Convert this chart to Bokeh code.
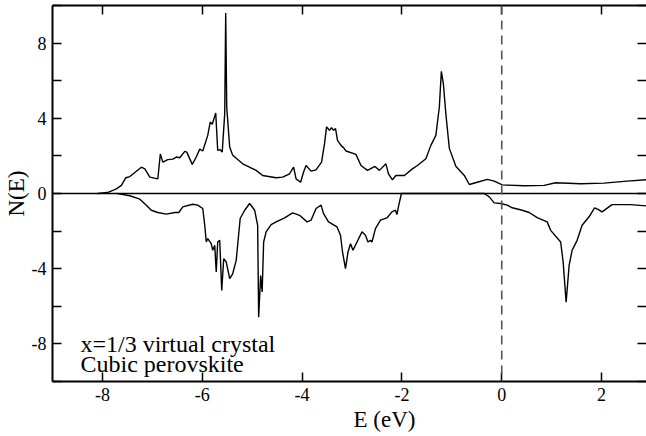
from bokeh.plotting import figure
from bokeh.models import FixedTicker, LinearAxis, Span, Label, Range1d, Title
from bokeh.embed import file_html
from bokeh.resources import INLINE

# ---- data ----
E_up = [-8.10, -7.90, -7.72, -7.62, -7.53, -7.45, -7.22, -7.15, -7.05, -6.89,
        -6.84, -6.79, -6.69, -6.59, -6.52, -6.45, -6.35, -6.31, -6.20, -6.12,
        -6.05, -5.99, -5.89, -5.84, -5.80, -5.73, -5.69, -5.64, -5.60, -5.55,
        -5.53, -5.51, -5.45, -5.39, -5.19, -4.92, -4.79, -4.52, -4.39, -4.25,
        -4.17, -4.12, -4.03, -3.97, -3.92, -3.82, -3.72, -3.61, -3.55, -3.51,
        -3.45, -3.41, -3.37, -3.33, -3.29, -3.22, -3.17, -3.12, -2.92, -2.82,
        -2.69, -2.54, -2.45, -2.32, -2.27, -2.19, -2.12, -1.95, -1.79, -1.69,
        -1.52, -1.42, -1.32, -1.25, -1.21, -1.17, -1.12, -1.05, -0.92, -0.75,
        -0.65, -0.49, -0.29, -0.15, 0.01, 0.45, 0.85, 1.08, 1.58, 2.05,
        2.51, 2.90]
N_up = [0.00, 0.05, 0.25, 0.43, 0.84, 0.90, 1.40, 1.31, 0.87, 0.78,
        2.10, 1.67, 1.80, 1.83, 1.94, 1.90, 2.24, 2.20, 1.55, 1.94,
        2.36, 2.26, 3.09, 3.80, 3.68, 4.28, 2.29, 2.33, 2.20, 4.25,
        9.60, 4.60, 2.47, 2.03, 1.58, 1.23, 0.96, 0.84, 0.87, 1.05,
        1.40, 0.78, 0.60, 1.14, 1.49, 1.19, 1.26, 1.67, 2.65, 3.54,
        3.36, 3.50, 3.36, 3.45, 2.83, 2.56, 2.44, 2.26, 2.08, 1.49,
        1.23, 1.44, 1.23, 1.58, 1.05, 0.73, 0.96, 0.96, 1.31, 1.49,
        1.85, 2.56, 3.09, 4.60, 6.50, 5.85, 4.25, 2.40, 1.45, 0.96,
        0.48, 0.60, 0.75, 0.66, 0.46, 0.41, 0.43, 0.57, 0.52, 0.55,
        0.66, 0.73]

E_dn = [-7.70, -7.45, -7.25, -7.12, -7.02, -6.89, -6.72, -6.55, -6.47, -6.39,
        -6.19, -6.09, -5.99, -5.95, -5.92, -5.89, -5.82, -5.79, -5.75, -5.72,
        -5.69, -5.65, -5.61, -5.57, -5.52, -5.45, -5.39, -5.32, -5.24, -5.15,
        -5.05, -4.95, -4.89, -4.87, -4.83, -4.80, -4.77, -4.72, -4.62, -4.52,
        -4.35, -4.19, -4.05, -3.90, -3.82, -3.72, -3.62, -3.57, -3.47, -3.30,
        -3.23, -3.19, -3.13, -3.08, -3.03, -2.98, -2.90, -2.80, -2.73, -2.68,
        -2.63, -2.60, -2.53, -2.43, -2.30, -2.20, -2.13, -2.10, -2.07, -2.01,
        -0.35, -0.25, -0.15, -0.02, 0.11, 0.21, 0.41, 0.55, 0.71, 0.91,
        0.98, 1.18, 1.23, 1.29, 1.35, 1.41, 1.51, 1.61, 1.75, 1.86,
        1.93, 2.01, 2.21, 2.58, 2.90]
N_dn = [0.00, -0.12, -0.30, -0.62, -0.89, -1.01, -1.10, -1.01, -1.01, -0.71,
        -0.57, -0.62, -0.80, -1.69, -2.58, -2.40, -2.67, -3.02, -2.76, -4.18,
        -2.58, -2.49, -5.16, -3.47, -3.64, -4.53, -4.27, -3.56, -1.33, -0.89,
        -0.53, -0.89, -1.69, -6.58, -4.36, -5.24, -2.58, -2.04, -1.65, -1.51,
        -1.30, -1.03, -1.16, -1.51, -1.42, -0.80, -0.62, -1.07, -1.51, -1.78,
        -2.22, -3.11, -4.00, -3.11, -2.67, -3.02, -2.58, -2.04, -2.22, -2.58,
        -2.49, -2.58, -1.87, -1.42, -1.30, -0.98, -0.89, -1.12, -0.71, 0.00,
        0.00, -0.18, -0.50, -0.53, -0.62, -0.76, -0.89, -1.01, -1.28, -1.51,
        -1.96, -2.58, -3.64, -5.78, -3.82, -3.02, -2.49, -1.69, -1.24, -0.76,
        -0.84, -0.98, -0.59, -0.59, -0.66]

x_ticks = [-8, -6, -4, -2, 0, 2]
x_tick_labels = ["-8", "-6", "-4", "-2", "0", "2"]
y_major = [-8, -4, 0, 4, 8]
y_tick_labels = ["-8", "-4", "0", "4", "8"]
y_minor = [-10, -6, -2, 2, 6, 10]
x_label = "E (eV)"
y_label = "N(E)"
notes = ["x=1/3 virtual crystal", "Cubic perovskite"]

SERIF = "Liberation Serif"

p = figure(width=646, height=436, x_range=Range1d(-9, 2.9), y_range=Range1d(-10, 10),
           output_backend="svg", toolbar_location=None,
           min_border_left=51, min_border_right=0, min_border_top=5, min_border_bottom=55)
p.outline_line_color = None
p.xgrid.visible = False
p.ygrid.visible = False
p.background_fill_color = "white"
p.border_fill_color = "white"


def style(ax, labels=None):
    ax.major_tick_in = 9
    ax.major_tick_out = 0
    ax.minor_tick_in = 9
    ax.minor_tick_out = 0
    ax.axis_line_width = 2
    ax.axis_line_color = "black"
    ax.major_tick_line_width = 1.5
    ax.minor_tick_line_width = 1.5
    ax.major_tick_line_color = "black"
    ax.minor_tick_line_color = "black"
    ax.major_label_text_font = SERIF
    ax.major_label_text_color = "black"
    ax.axis_label_text_font = SERIF
    ax.axis_label_text_font_style = "normal"
    ax.axis_label_text_color = "black"
    ax.axis_label_text_font_size = "23px"
    if labels is not None:
        ax.major_label_text_font_size = "18px"
        ax.major_label_standoff = 6
        ax.major_label_overrides = labels
    else:
        ax.major_label_text_font_size = "0px"
        ax.major_label_standoff = 0
        ax.major_label_overrides = {}


bx = p.xaxis[0]
bx.ticker = FixedTicker(ticks=x_ticks)
style(bx, dict(zip(x_ticks, x_tick_labels)))
bx.minor_tick_in = 0

ly = p.yaxis[0]
ly.ticker = FixedTicker(ticks=y_major, minor_ticks=y_minor)
style(ly, dict(zip(y_major, y_tick_labels)))
ly.axis_label = y_label
ly.axis_label_standoff = 0

tx = LinearAxis(ticker=FixedTicker(ticks=x_ticks))
style(tx)
tx.major_label_overrides = {t: "" for t in x_ticks}
tx.minor_tick_in = 0
p.add_layout(tx, "above")

ry = LinearAxis(ticker=FixedTicker(ticks=y_major, minor_ticks=y_minor))
style(ry)
ry.major_label_overrides = {t: "" for t in y_major}
ry.axis_line_color = None
p.add_layout(ry, "right")

p.add_layout(Title(text=x_label, align="left", offset=301, standoff=3,
                   text_font=SERIF, text_font_size="23px", text_font_style="normal",
                   text_color="black"), "below")

p.add_layout(Span(location=0, dimension="width", line_color="black", line_width=1.5))
p.add_layout(Span(location=0, dimension="height", line_color="#555555", line_width=1.6,
                  line_dash="9 6"))

p.line(E_up, N_up, line_color="black", line_width=1.4)
p.line(E_dn, N_dn, line_color="black", line_width=1.4)

p.add_layout(Label(x=-8.44, y=-7.98, text=notes[0], text_font=SERIF, text_font_size="24px",
                   text_color="black", text_baseline="alphabetic", text_align="left"))
p.add_layout(Label(x=-8.44, y=-9.08, text=notes[1], text_font=SERIF, text_font_size="24px",
                   text_color="black", text_baseline="alphabetic", text_align="left"))

open("out.html", "w").write(file_html(p, INLINE))
